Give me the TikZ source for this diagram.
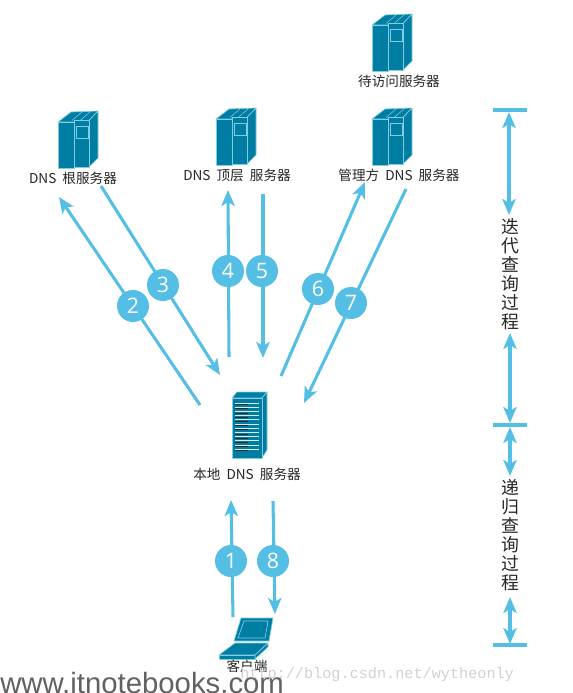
\documentclass[tikz,border=0pt]{standalone}
\usepackage{fontspec}
\setmainfont{Noto Sans CJK SC}
\newfontfamily\numfont{Open Sans}
\newfontfamily\wmfont{Liberation Sans}
\newfontfamily\urlfont{Liberation Mono}
\usetikzlibrary{arrows.meta}
\definecolor{dTeal}{RGB}{0,125,163}
\definecolor{dEdge}{RGB}{130,205,225}
\definecolor{dFlow}{RGB}{84,190,228}
\tikzset{
  flow/.style={-{Stealth[length=12pt,width=10pt,inset=3pt]}, draw=dFlow, line width=2.3pt},
  biflow/.style={{Stealth[length=12pt,width=10pt,inset=3pt]}-{Stealth[length=12pt,width=10pt,inset=3pt]}, draw=dFlow, line width=2.3pt},
  bar/.style={draw=dFlow, line width=2.3pt},
  stepnum/.style={circle, fill=dFlow, text=white, minimum size=24pt, inner sep=0pt, font=\numfont\fontsize{16}{16}\selectfont},
  lbl/.style={font=\fontsize{10.2}{10.2}\selectfont, inner sep=0pt, text=black!85},
  vlbl/.style={lbl, font=\fontsize{13.4}{14.2}\selectfont, align=center},
  part/.style={fill=dTeal, draw=dEdge, line width=0.5pt, line join=round},
  tower/.pic={
    \path[part] (0,11) -- (13,1) -- (40,0) -- (31,9.5) -- (16,11) -- cycle;
    \path[part] (31,9.5) -- (40,0) -- (40,47) -- (31,56) -- cycle;
    \path[part] (0,11) -- (16,11) -- (16,57) -- (0,57) -- cycle;
    \path[part] (16,9.5) -- (31,9.5) -- (31,56) -- (16,56) -- cycle;
    \draw[dEdge, line width=0.6pt] (18,15) rectangle (30,27);
    \draw[dEdge, line width=0.4pt] (14,9.5) -- (24,1) (22,9.5) -- (32,1);
  },
  rack/.pic={
    \path[part] (0,6) -- (5,0) -- (35,0) -- (30,6) -- cycle;
    \path[part] (30,6) -- (35,0) -- (35,58) -- (30,66) -- cycle;
    \path[part] (0,6) -- (30,6) -- (30,66) -- (0,66) -- cycle;
    \foreach \i in {0,...,11}
      \draw[white!85!dTeal, line width=0.55pt] (3,{11+\i*4.2}) -- (27,{11+\i*4.2});
    \foreach \i in {0,...,11}
      \draw[black!85, line width=0.6pt] (3,{12.6+\i*4.2}) -- (16,{12.6+\i*4.2});
  },
  laptop/.pic={
    \path[part] (23,1) -- (55,1) -- (51,24) -- (16,24) -- cycle;
    \draw[dEdge, line width=0.5pt] (26,4) -- (50,4) -- (47,21) -- (20,21) -- cycle;
    \path[part] (1,38) -- (17,26) -- (50,26) -- (37,38) -- cycle;
    \path[part] (1,38) -- (37,38) -- (37,42) -- (1,42) -- cycle;
    \path[part] (37,38) -- (50,26) -- (50,30) -- (37,42) -- cycle;
  },
}
\begin{document}
\begin{tikzpicture}[x=0.75pt,y=-0.75pt]
  \useasboundingbox (0,0) rectangle (573,693);

  %====================== SERVERS ======================
  \pic at (372,14) {tower};
  \pic at (372,108) {tower};
  \pic at (216,108) {tower};
  \pic at (58,111) {tower};
  \pic at (232,392) {rack};
  \pic at (218,617) {laptop};

  \node[lbl] (target) at (399,81) {待访问服务器};
  \node[lbl] (auth) at (399,175) {管理方\ \ DNS\ \ 服务器};
  \node[lbl] (tld) at (237,175) {DNS\ \ 顶层\ \ 服务器};
  \node[lbl] (root) at (73,178) {DNS\ \ 根服务器};
  \node[lbl] (local) at (247,474) {本地\ \ DNS\ \ 服务器};
  \node[lbl] (client) at (247,666) {客户端};

  %====================== ENDS OF THE ARROWS ======================
  \coordinate (l2) at (200,405);   \coordinate (r2) at (59,197);
  \coordinate (r3) at (101,186);   \coordinate (l3) at (220,375);
  \coordinate (l4) at (229,357);   \coordinate (t4) at (228,190);
  \coordinate (t5) at (263,194);   \coordinate (l5) at (263,358);
  \coordinate (l6) at (281,376);   \coordinate (a6) at (365,182);
  \coordinate (a7) at (406,189);   \coordinate (l7) at (304,403);
  \coordinate (c1) at (233,617);   \coordinate (l1) at (231,500);
  \coordinate (l8) at (273,501);   \coordinate (c8) at (275,614);

  \draw[flow] (l2) -- (r2);
  \draw[flow] (r3) -- (l3);
  \draw[flow] (l4) -- (t4);
  \draw[flow] (t5) -- (l5);
  \draw[flow] (l6) -- (a6);
  \draw[flow] (a7) -- (l7);
  \draw[flow] (c1) -- (l1);
  \draw[flow] (l8) -- (c8);

  \node[stepnum] (n1) at (231,561) {1};
  \node[stepnum] (n2) at (133,306) {2};
  \node[stepnum] (n3) at (163,285) {3};
  \node[stepnum] (n4) at (228,271) {4};
  \node[stepnum] (n5) at (262,271) {5};
  \node[stepnum] (n6) at (318,289) {6};
  \node[stepnum] (n7) at (351,303) {7};
  \node[stepnum] (n8) at (273,561) {8};

  %====================== RIGHT SCALE ======================
  \coordinate (topl) at (493,110);  \coordinate (topr) at (527,110);
  \coordinate (midl) at (493,425);  \coordinate (midr) at (527,425);
  \coordinate (botl) at (493,645);  \coordinate (botr) at (527,645);
  \draw[bar] (topl) -- (topr);
  \draw[bar] (midl) -- (midr);
  \draw[bar] (botl) -- (botr);

  \node[vlbl] (iter) at (510,274) {迭\\代\\查\\询\\过\\程};
  \node[vlbl] (recur) at (510,535) {递\\归\\查\\询\\过\\程};

  \coordinate (i1) at (509,112);  \coordinate (i2) at (509,215);
  \coordinate (i3) at (510,333);  \coordinate (i4) at (510,423);
  \coordinate (r1) at (510,427);  \coordinate (r5) at (510,476);
  \coordinate (r6) at (510,597);  \coordinate (r7) at (510,644);
  \draw[biflow] (i1) -- (i2);
  \draw[biflow] (i3) -- (i4);
  \draw[biflow] (r1) -- (r5);
  \draw[biflow] (r6) -- (r7);

  %====================== WATERMARKS ======================
  \node[anchor=base west, inner sep=0pt, text=black!62, font=\wmfont\fontsize{22}{22}\selectfont] (site) at (0,693) {www.itnotebooks.com};
  \node[anchor=base west, inner sep=0pt, text=black!18, font=\urlfont\fontsize{11.4}{12}\selectfont] (blog) at (240,678) {http://blog.csdn.net/wytheonly};
\end{tikzpicture}
\end{document}
